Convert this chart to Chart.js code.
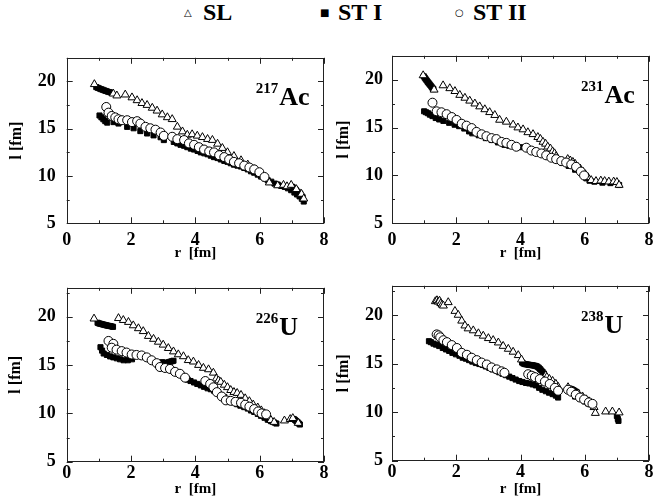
<!DOCTYPE html>
<html>
<head>
<meta charset="utf-8">
<script src="https://cdn.jsdelivr.net/npm/chart.js@4.4.1/dist/chart.umd.min.js"></script>
<style>
  body { margin: 0; background: #fff; }
  #page { position: relative; width: 672px; height: 503px; overflow: hidden; background: #fff; }
  canvas { position: absolute; }
  .leg { position: absolute; top: 0; font: bold 24px/24px "Liberation Serif", serif; color: #000; white-space: nowrap; }
  .sym { position: absolute; top: 8px; font: 10px/10px "DejaVu Sans", sans-serif; color: #000; }
</style>
</head>
<body>
<div id="page">
  <span class="sym" style="left:184px">△</span><span class="leg" style="left:203px">SL</span>
  <span class="sym" style="left:320px">■</span><span class="leg" style="left:338px">ST I</span>
  <span class="sym" style="left:455px">○</span><span class="leg" style="left:473px">ST II</span>
  <canvas id="c1" width="336" height="234" style="left:0;top:36px"></canvas>
  <canvas id="c2" width="336" height="234" style="left:336px;top:36px"></canvas>
  <canvas id="c3" width="336" height="237" style="left:0;top:266px"></canvas>
  <canvas id="c4" width="336" height="237" style="left:336px;top:266px"></canvas>
</div>
<script>
// ===== DATA =====
const seriesNames = ['SL', 'ST I', 'ST II'];
const xTicks = [0, 2, 4, 6, 8];
const yTicks = [5, 10, 15, 20];

// 217Ac
const ac217SL = [[0.86,19.7],[1.45,18.7],[1.56,18.5],[1.82,18.6],[2.03,18.3],[2.19,18.0],[2.34,17.7],[2.5,17.5],[2.66,17.2],[2.81,16.9],[2.97,16.5],[3.13,16.2],[3.28,16.0],[3.44,15.2],[3.6,14.7],[3.75,14.35],[3.9,14.4],[4.06,14.25],[4.22,14.1],[4.38,13.9],[4.53,13.8],[4.69,13.4],[4.84,12.95],[5.0,12.5],[5.2,12.1],[5.42,11.65],[5.63,11.2],[5.83,10.7],[6.1,9.95],[6.3,9.3],[6.56,9.0],[6.74,9.05],[6.85,8.9],[6.98,9.05],[7.14,8.6],[7.3,8.1],[7.37,7.6]];
const ac217ST1 = [[0.92,19.4],[0.97,19.32],[1.02,19.25],[1.07,19.18],[1.12,19.12],[1.17,19.05],[1.22,18.99],[1.27,18.93],[1.32,18.88],[1.37,18.83],[1.02,16.4],[1.08,16.2],[1.14,16.0],[1.2,15.8],[1.26,15.65],[1.46,15.7],[1.61,15.55],[1.88,15.2],[2.08,15.05],[2.29,14.75],[2.5,14.5],[2.7,14.3],[2.92,14.1],[3.02,13.8],[3.33,13.6],[3.44,13.45],[3.54,13.3],[3.65,13.2],[3.75,13.05],[3.86,12.9],[3.96,12.8],[4.07,12.65],[4.17,12.5],[4.28,12.4],[4.38,12.3],[4.48,12.15],[4.58,12.0],[4.69,11.9],[4.79,11.75],[4.9,11.6],[5.0,11.5],[5.1,11.35],[5.2,11.2],[5.31,11.1],[5.42,11.0],[5.52,10.85],[5.63,10.7],[5.73,10.5],[5.83,10.35],[5.94,10.15],[6.04,9.95],[6.15,9.75],[6.25,9.55],[6.36,9.4],[6.46,9.2],[6.56,9.1],[6.67,8.95],[6.78,8.85],[6.88,8.7],[6.98,8.5],[7.02,8.85],[7.06,8.7],[7.08,8.25],[7.12,8.55],[7.16,8.05],[7.18,8.35],[7.24,7.85],[7.26,8.1],[7.31,7.6],[7.33,7.8],[7.37,7.3]];
const ac217ST2 = [[1.23,17.3],[1.3,16.7],[1.4,16.35],[1.51,16.2],[1.61,16.0],[1.72,15.9],[1.88,15.9],[2.03,15.7],[2.19,15.8],[2.29,15.55],[2.45,15.2],[2.6,15.05],[2.76,14.9],[2.92,14.6],[3.02,14.25],[3.28,14.15],[3.44,13.9],[3.65,13.8],[3.8,13.45],[3.96,13.3],[4.11,13.05],[4.27,12.8],[4.43,12.6],[4.58,12.5],[4.74,12.2],[4.9,12.0],[5.05,11.75],[5.2,11.5],[5.36,11.35],[5.52,11.1],[5.68,10.9],[5.83,10.7],[5.99,10.4],[6.15,9.9]];

// 231Ac
const ac231SL = [[0.97,20.45],[1.31,18.95],[1.59,19.4],[1.8,19.1],[1.96,18.8],[2.11,18.4],[2.27,18.1],[2.42,17.8],[2.58,17.5],[2.73,17.2],[2.89,16.9],[3.04,16.6],[3.2,16.3],[3.35,15.8],[3.56,15.6],[3.77,15.3],[3.92,15.0],[4.08,14.8],[4.23,14.5],[4.39,14.3],[4.54,14.0],[4.62,13.8],[4.7,13.5],[4.78,13.3],[4.85,13.0],[4.93,12.8],[5.0,12.5],[5.06,12.3],[5.11,12.0],[5.47,11.7],[5.55,11.55],[5.63,11.4],[5.7,11.2],[5.78,10.9],[5.86,10.7],[5.94,10.4],[6.02,10.1],[6.1,9.8],[6.2,9.5],[6.35,9.4],[6.5,9.45],[6.62,9.4],[6.75,9.35],[6.9,9.35],[7.0,9.3],[7.07,9.0]];
const ac231ST1 = [[0.99,20.35],[1.02,20.2],[1.05,20.05],[1.08,19.92],[1.11,19.78],[1.14,19.65],[1.17,19.52],[1.2,19.4],[1.23,19.27],[1.26,19.14],[1.29,19.02],[1.0,16.7],[1.06,16.6],[1.12,16.5],[1.18,16.35],[1.26,16.2],[1.36,16.0],[1.47,15.85],[1.6,15.7],[1.78,15.5],[1.95,15.3],[2.09,15.15],[2.25,14.9],[2.4,14.6],[2.5,14.4],[2.7,14.2],[2.92,13.9],[3.1,13.7],[3.3,13.45],[3.5,13.2],[3.65,13.1],[3.85,13.05],[4.0,12.95],[4.17,12.9],[4.35,12.65],[4.5,12.5],[4.68,12.3],[4.85,12.0],[5.0,11.75],[5.1,11.6],[5.3,11.3],[5.5,11.0],[5.7,10.6],[5.93,10.2],[6.05,9.7],[6.15,9.45],[6.3,9.35],[6.55,9.25],[6.8,9.2],[7.07,9.0]];
const ac231ST2 = [[1.26,17.6],[1.39,16.7],[1.54,16.6],[1.7,16.4],[1.86,16.1],[2.01,15.8],[2.17,15.4],[2.32,15.2],[2.48,14.95],[2.63,14.55],[2.79,14.3],[2.94,14.1],[3.1,13.9],[3.25,13.8],[3.41,13.5],[3.56,13.4],[3.72,13.2],[3.87,13.0],[4.18,12.9],[4.34,12.6],[4.49,12.45],[4.65,12.3],[4.8,12.1],[4.96,11.85],[5.11,11.7],[5.27,11.5],[5.42,11.35],[5.58,11.15],[5.73,10.9],[5.88,10.4],[5.98,10.0]];

// 226U
const u226SL = [[0.85,19.8],[1.61,19.85],[1.76,19.65],[1.92,19.45],[2.07,19.1],[2.23,18.8],[2.38,18.5],[2.54,18.0],[2.7,17.7],[2.85,17.4],[3.0,17.1],[3.16,16.75],[3.32,16.4],[3.47,16.1],[3.63,15.9],[3.78,15.5],[3.94,15.35],[4.1,15.0],[4.25,14.7],[4.41,14.55],[4.56,14.2],[4.65,13.6],[4.72,13.4],[4.79,13.25],[4.9,12.95],[5.0,12.7],[5.1,12.4],[5.2,12.2],[5.3,12.1],[5.42,11.9],[5.55,11.55],[5.68,11.25],[5.8,10.9],[5.94,10.6],[6.05,10.3],[6.15,10.0],[6.25,9.6],[6.35,9.3],[6.45,9.1],[6.77,9.25],[6.95,9.4],[7.03,9.5],[7.2,9.0]];
const u226ST1 = [[0.96,19.38],[1.0,19.32],[1.04,19.28],[1.08,19.25],[1.12,19.21],[1.16,19.18],[1.2,19.14],[1.24,19.11],[1.28,19.08],[1.32,19.05],[1.36,19.03],[1.4,19.0],[1.44,18.96],[1.05,16.85],[1.1,16.5],[1.15,16.2],[1.25,16.05],[1.35,15.9],[1.45,15.8],[1.56,15.7],[1.66,15.6],[1.77,15.5],[1.9,15.5],[2.03,15.6],[2.97,15.3],[3.02,15.25],[3.07,15.2],[3.12,15.22],[3.17,15.3],[3.22,15.35],[3.27,15.4],[3.32,15.45],[3.76,13.5],[3.85,13.35],[3.96,13.2],[4.06,13.05],[4.17,12.9],[4.27,12.75],[4.38,12.6],[4.48,12.5],[4.58,12.35],[4.7,12.1],[4.8,11.9],[4.9,11.7],[5.0,11.5],[5.1,11.35],[5.2,11.15],[5.3,10.95],[5.4,10.8],[5.52,10.65],[5.63,10.5],[5.73,10.3],[5.83,10.15],[5.94,9.95],[6.04,9.75],[6.15,9.55],[6.25,9.35],[6.35,9.2],[6.46,9.05],[6.52,8.95],[7.06,9.42],[7.1,9.32],[7.14,9.2],[7.18,9.08],[7.22,8.95],[7.25,8.85]];
const u226ST2 = [[1.3,17.5],[1.45,17.2],[1.4,16.8],[1.55,16.6],[1.71,16.45],[1.86,16.3],[2.02,16.1],[2.17,16.05],[2.33,16.0],[2.49,15.8],[2.64,15.5],[2.8,15.2],[2.9,14.8],[3.06,14.7],[3.21,14.6],[3.37,14.3],[3.52,14.1],[3.68,13.7],[4.31,13.35],[4.46,13.05],[4.56,12.7],[4.67,12.2],[4.82,11.75],[4.95,11.35],[5.1,11.3],[5.25,11.2],[5.42,11.1],[5.55,10.9],[5.68,10.7],[5.83,10.45],[5.95,10.2],[6.06,10.0],[6.2,9.9]];

// 238U
const u238SL = [[1.35,21.4],[1.4,21.5],[1.44,21.35],[1.48,21.45],[1.52,21.2],[1.56,21.05],[1.6,20.95],[1.75,21.3],[1.96,20.4],[2.06,20.0],[2.17,19.4],[2.27,18.9],[2.37,18.6],[2.53,18.4],[2.69,18.1],[2.84,17.85],[3.0,17.6],[3.15,17.4],[3.31,17.15],[3.46,16.8],[3.62,16.5],[3.77,16.2],[3.93,15.85],[4.03,15.4],[4.78,13.75],[4.82,13.6],[4.9,13.4],[5.0,13.2],[5.1,12.9],[5.17,12.6],[5.48,12.55],[5.8,11.9],[5.93,11.6],[6.05,11.3],[6.13,11.1],[6.22,10.8],[6.29,10.5],[6.33,9.9],[6.65,10.05],[6.86,10.05],[7.07,9.95]];
const u238ST1 = [[4.05,15.1],[4.09,15.0],[4.13,14.95],[4.17,14.92],[4.21,14.9],[4.25,14.88],[4.29,14.86],[4.33,14.84],[4.37,14.82],[4.41,14.8],[4.45,14.77],[4.49,14.73],[4.53,14.67],[4.57,14.56],[4.61,14.42],[4.65,14.28],[4.69,14.12],[4.73,13.96],[5.52,12.43],[5.56,12.39],[5.6,12.34],[5.64,12.27],[5.68,12.19],[5.72,12.11],[5.76,12.02],[1.15,17.3],[1.21,17.2],[1.29,17.05],[1.37,16.95],[1.47,16.8],[1.58,16.6],[1.68,16.45],[1.78,16.3],[1.88,16.1],[1.99,15.95],[2.1,15.8],[2.2,15.6],[2.3,15.5],[2.4,15.35],[2.5,15.2],[2.61,15.05],[2.72,14.95],[2.82,14.85],[2.92,14.7],[3.03,14.55],[3.13,14.4],[3.23,14.3],[3.34,14.1],[3.44,13.95],[3.55,13.8],[3.65,13.65],[3.75,13.5],[3.85,13.35],[3.96,13.2],[4.06,13.1],[4.17,13.0],[4.27,12.95],[4.38,12.85],[4.48,12.75],[4.58,12.5],[4.68,12.3],[4.79,12.15],[4.89,12.0],[5.0,11.85],[5.1,11.7],[5.17,11.5],[5.7,11.6],[5.85,11.4],[6.0,11.1],[6.1,10.9],[7.0,9.6],[7.03,9.3],[7.05,9.1]];
const u238ST2 = [[1.39,18.0],[1.45,17.9],[1.5,17.7],[1.6,17.4],[1.71,17.2],[1.86,16.9],[2.02,16.6],[2.17,16.1],[2.33,15.9],[2.48,15.6],[2.64,15.35],[2.79,15.1],[2.95,14.9],[3.1,14.6],[3.26,14.4],[3.41,14.2],[3.5,14.05],[4.24,13.9],[4.35,13.75],[4.45,13.6],[4.6,13.4],[4.76,13.15],[4.91,12.9],[5.07,12.5],[5.17,12.2],[5.48,12.3],[5.58,12.1],[5.72,11.8],[5.85,11.5],[5.98,11.3],[6.13,11.0],[6.24,10.85]];

// ===== PANELS =====
const panels = [
  { id: 'c1', mass: '217', sym: 'Ac', data: [ac217SL, ac217ST1, ac217ST2], yMax: 22.5,
    yW: 66.7, xH: 46.7, pad: { top: 7.3, right: 12 }, tickPadX: 6, tickPadY: 11, titleX: 8, titleY: 9 },
  { id: 'c2', mass: '231', sym: 'Ac', data: [ac231SL, ac231ST1, ac231ST2], yMax: 22.5,
    yW: 56, xH: 46.7, pad: { top: 7.3, right: 23 }, tickPadX: 6, tickPadY: 9, titleX: 8, titleY: 0 },
  { id: 'c3', mass: '226', sym: 'U', data: [u226SL, u226ST1, u226ST2], yMax: 23,
    yW: 66.7, xH: 41.3, pad: { top: 8, right: 12 }, tickPadX: 1, tickPadY: 11, titleX: 5, titleY: 8 },
  { id: 'c4', mass: '238', sym: 'U', data: [u238SL, u238ST1, u238ST2], yMax: 23,
    yW: 56, xH: 42.3, pad: { top: 8, right: 23 }, tickPadX: 1, tickPadY: 9, titleX: 5, titleY: 0 }
];

// ===== PLUGIN: frame, inner ticks, nucleus label =====
const framePlugin = {
  id: 'frame',
  afterDraw(chart, args, opts) {
    const { ctx, chartArea: a, scales: { x, y } } = chart;
    ctx.save();
    ctx.strokeStyle = '#222';
    ctx.lineWidth = 1;
    ctx.strokeRect(Math.round(a.left) + 0.5, Math.round(a.top) + 0.5,
      Math.round(a.width) - 1, Math.round(a.height) - 1);
    ctx.beginPath();
    for (let v = x.min; v <= x.max; v += 1) {
      const px = Math.round(x.getPixelForValue(v)) + 0.5;
      const len = v % 2 === 0 ? 6 : 3;
      ctx.moveTo(px, a.bottom); ctx.lineTo(px, a.bottom - len);
      ctx.moveTo(px, a.top); ctx.lineTo(px, a.top + len);
    }
    for (let v = y.min; v <= y.max; v += 2.5) {
      const py = Math.round(y.getPixelForValue(v)) + 0.5;
      const len = v % 5 === 0 ? 6 : 3;
      ctx.moveTo(a.left, py); ctx.lineTo(a.left + len, py);
      ctx.moveTo(a.right, py); ctx.lineTo(a.right - len, py);
    }
    ctx.stroke();

    // nucleus label, e.g. 217Ac
    ctx.fillStyle = '#000';
    ctx.textBaseline = 'alphabetic';
    ctx.font = 'bold 15px "Liberation Serif"';
    const lx = a.left + 189;
    const ly = a.top + 47;
    ctx.fillText(opts.mass, lx, ly - 12);
    const w = ctx.measureText(opts.mass).width;
    ctx.font = 'bold 26px "Liberation Serif"';
    ctx.fillText(opts.sym, lx + w + 1, ly);
    ctx.restore();
  }
};

const styles = [
  { pointStyle: 'triangle', pointRadius: 4.6, backgroundColor: '#fff', borderColor: '#000', borderWidth: 1, order: 1 },
  { pointStyle: 'rect', pointRadius: 3.6, backgroundColor: '#000', borderColor: '#000', borderWidth: 1, order: 2 },
  { pointStyle: 'circle', pointRadius: 4.5, backgroundColor: '#fff', borderColor: '#000', borderWidth: 1, order: 0 }
];

function toPoints(list) {
  return list.map(p => ({ x: p[0], y: p[1] }));
}

function makeChart(p) {
  const font = { family: '"Liberation Serif", serif', weight: 'bold' };
  new Chart(document.getElementById(p.id), {
    type: 'scatter',
    data: {
      datasets: p.data.map((d, i) => Object.assign({
        label: seriesNames[i],
        data: toPoints(d),
        pointHoverRadius: 5
      }, styles[i]))
    },
    options: {
      responsive: false,
      animation: false,
      layout: { padding: { top: p.pad.top, right: p.pad.right, left: 0, bottom: 0 } },
      plugins: {
        legend: { display: false },
        tooltip: { enabled: false },
        frame: { mass: p.mass, sym: p.sym }
      },
      scales: {
        x: {
          type: 'linear', min: 0, max: 8,
          grid: { display: false, drawTicks: false },
          border: { display: false },
          afterBuildTicks: s => { s.ticks = xTicks.map(v => ({ value: v })); },
          afterFit: s => { s.height = p.xH; },
          ticks: { color: '#000', autoSkip: false, maxRotation: 0, padding: p.tickPadX,
            font: Object.assign({ size: 18 }, font) },
          title: { display: true, text: 'r  [fm]', color: '#000',
            padding: { top: 0, bottom: p.titleX }, font: Object.assign({ size: 15, lineHeight: 1.2 }, font) }
        },
        y: {
          type: 'linear', min: 5, max: p.yMax,
          grid: { display: false, drawTicks: false },
          border: { display: false },
          afterBuildTicks: s => { s.ticks = yTicks.map(v => ({ value: v })); },
          afterFit: s => { s.width = p.yW; },
          ticks: { color: '#000', autoSkip: false, padding: p.tickPadY,
            font: Object.assign({ size: 18 }, font) },
          title: { display: true, text: 'l [fm]', color: '#000',
            padding: { top: p.titleY, bottom: 0 }, font: Object.assign({ size: 16, lineHeight: 1 }, font) }
        }
      }
    },
    plugins: [framePlugin]
  });
}

panels.forEach(makeChart);
</script>
</body>
</html>
